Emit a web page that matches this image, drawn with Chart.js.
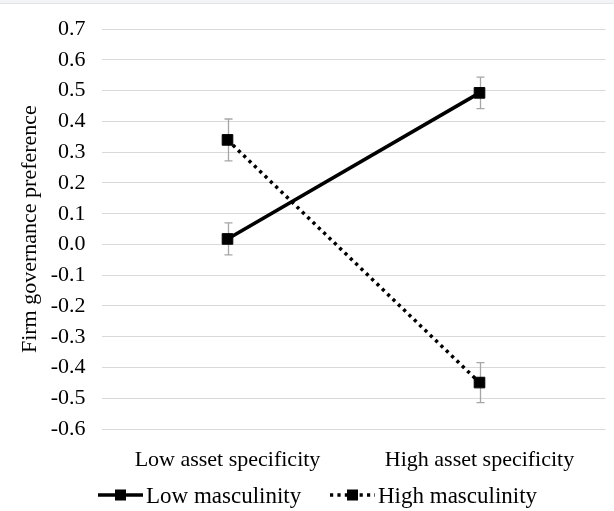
<!DOCTYPE html>
<html>
<head>
<meta charset="utf-8">
<script src="https://cdn.jsdelivr.net/npm/chart.js@4.4.1/dist/chart.umd.min.js"></script>
<style>
  html, body { margin: 0; padding: 0; background: #ffffff; }
  #wrap { width: 614px; height: 511px; position: relative; }
</style>
</head>
<body>
<div id="wrap"><canvas id="c" width="614" height="511"></canvas></div>
<script>
// Interaction plot: governance preference by asset specificity and masculinity
const categories = ['Low asset specificity', 'High asset specificity'];
const seriesNames = ['Low masculinity', 'High masculinity'];
const lowMasculinity = [0.018, 0.493];
const highMasculinity = [0.340, -0.449];
const lowMasculinityErr = [0.052, 0.051];
const highMasculinityErr = [0.068, 0.065];
const yTitle = 'Firm governance preference';

const FONT = 'Liberation Serif, Times New Roman, serif';
const textFont = { family: FONT, size: 22 };

// Error bars (drawn beneath the markers)
const errorBars = {
  id: 'errorBars',
  beforeDatasetsDraw(chart) {
    const ctx = chart.ctx;
    const y = chart.scales.y;
    ctx.save();
    ctx.strokeStyle = '#a6a6a6';
    ctx.lineWidth = 1.3;
    chart.data.datasets.forEach((ds, di) => {
      const meta = chart.getDatasetMeta(di);
      meta.data.forEach((pt, i) => {
        const v = ds.data[i], e = ds.errors[i];
        const x = Math.round(pt.x) + 0.5;
        const yt = y.getPixelForValue(v + e);
        const yb = y.getPixelForValue(v - e);
        ctx.beginPath();
        ctx.moveTo(x, yt); ctx.lineTo(x, yb);
        ctx.moveTo(x - 4, yt); ctx.lineTo(x + 4, yt);
        ctx.moveTo(x - 4, yb); ctx.lineTo(x + 4, yb);
        ctx.stroke();
      });
    });
    ctx.restore();
  }
};

// Bottom legend with line samples and square markers
const lineLegend = {
  id: 'lineLegend',
  afterDraw(chart) {
    const ctx = chart.ctx;
    const cy = 495;
    const items = [
      { x0: 98, x1: 143, tx: 146 },
      { x0: 330, x1: 375, tx: 378 }
    ];
    ctx.save();
    chart.data.datasets.forEach((ds, di) => {
      const it = items[di];
      ctx.strokeStyle = ds.borderColor;
      ctx.lineWidth = ds.borderWidth;
      ctx.setLineDash(ds.borderDash || []);
      ctx.beginPath();
      ctx.moveTo(it.x0, cy); ctx.lineTo(it.x1, cy);
      ctx.stroke();
      ctx.setLineDash([]);
      ctx.fillStyle = ds.pointBackgroundColor;
      const mx = (it.x0 + it.x1) / 2;
      ctx.fillRect(mx - 5.5, cy - 5.5, 11, 11);
      ctx.font = `23px ${FONT}`;
      ctx.fillStyle = '#000';
      ctx.textBaseline = 'alphabetic';
      ctx.textAlign = 'left';
      ctx.fillText(ds.label, it.tx, 503);
    });
    ctx.restore();
  }
};

// Thin rule along the top edge
const topRule = {
  id: 'topRule',
  beforeDraw(chart) {
    const ctx = chart.ctx;
    ctx.save();
    ctx.fillStyle = '#f3f4f6';
    ctx.fillRect(0, 0, chart.width, 3);
    ctx.fillStyle = '#e2e4e8';
    ctx.fillRect(0, 3, chart.width, 1);
    ctx.restore();
  }
};

const common = {
  borderColor: '#000000',
  pointBackgroundColor: '#000000',
  pointBorderColor: '#000000',
  pointStyle: 'rect',
  pointRadius: 7.5,
  pointBorderWidth: 1,
  pointHoverRadius: 7.5,
  fill: false,
  tension: 0
};

new Chart(document.getElementById('c'), {
  type: 'line',
  data: {
    labels: categories,
    datasets: [
      Object.assign({}, common, {
        label: seriesNames[0],
        data: lowMasculinity,
        errors: lowMasculinityErr,
        borderWidth: 3.6
      }),
      Object.assign({}, common, {
        label: seriesNames[1],
        data: highMasculinity,
        errors: highMasculinityErr,
        borderWidth: 3.5,
        borderDash: [3.2, 4.2],
        borderCapStyle: 'butt'
      })
    ]
  },
  options: {
    responsive: false,
    devicePixelRatio: 1,
    animation: false,
    events: [],
    layout: { padding: { top: 23, left: 0, right: 0, bottom: 22 } },
    plugins: { legend: { display: false }, tooltip: { enabled: false } },
    scales: {
      x: {
        offset: true,
        grid: { display: false },
        border: { display: false },
        ticks: { font: textFont, color: '#000', padding: 10, maxRotation: 0 },
        afterFit(s) { s.height = 60; }
      },
      y: {
        min: -0.6,
        max: 0.7,
        grid: { color: '#d9d9d9', lineWidth: 1, drawTicks: false },
        border: { display: false },
        ticks: {
          stepSize: 0.1,
          font: textFont,
          color: '#000',
          padding: 16,
          callback: v => (Math.abs(v) < 1e-9 ? 0 : v).toFixed(1)
        },
        title: {
          display: true,
          text: yTitle,
          font: textFont,
          color: '#000',
          padding: { top: 17, bottom: 0 }
        },
        afterFit(s) { s.width = 101.5; }
      }
    }
  },
  plugins: [topRule, errorBars, lineLegend]
});
</script>
</body>
</html>
